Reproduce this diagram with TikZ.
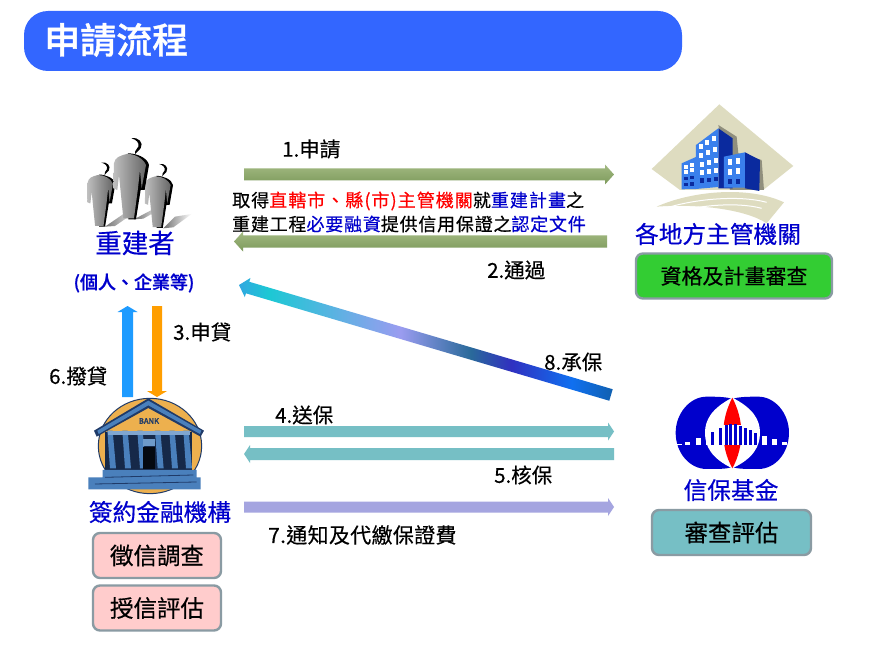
\documentclass[tikz,border=0pt]{standalone}
\usepackage{fontspec}
\setmainfont{Noto Sans CJK TC}[FakeBold=0.45]
\newfontfamily\boldish{Noto Sans CJK TC Medium}[FakeBold=1]
\usetikzlibrary{calc,shapes.geometric}
\definecolor{hdr}{HTML}{3366FF}
\definecolor{lblue}{HTML}{0000CC}
\definecolor{tealbar}{HTML}{76BFC5}
\definecolor{perib}{HTML}{A5A5E0}
\definecolor{boxedge}{HTML}{8A9BA3}
\definecolor{beige}{HTML}{DEDCC0}
\definecolor{bface}{HTML}{3A80EC}
\definecolor{bside}{HTML}{0A2A9E}
\definecolor{bankblue}{HTML}{4A80BC}
\definecolor{bankdark}{HTML}{1F3A68}
\definecolor{bankor}{HTML}{EDB04E}
\definecolor{gtop}{HTML}{A3B982}
\definecolor{gbot}{HTML}{7C9A5B}
\definecolor{arrblue}{HTML}{1E9BFF}
\definecolor{arrorange}{HTML}{FF9E00}
\definecolor{e1}{HTML}{30A8E0}
\definecolor{e2}{HTML}{1CC8D4}
\definecolor{e3}{HTML}{9A9CF0}
\definecolor{e4}{HTML}{2A6A9A}
\definecolor{e5}{HTML}{3030C0}
\definecolor{e6}{HTML}{1070F0}
\definecolor{e7}{HTML}{1060B0}
\pgfdeclarehorizontalshading{eightshade}{100bp}{color(0bp)=(e1);color(25bp)=(e1);color(29bp)=(e2);color(46.6bp)=(e3);color(56bp)=(e4);color(61.4bp)=(e5);color(69.5bp)=(e6);color(75bp)=(e7);color(100bp)=(e7)}
\tikzset{
  x=1pt,y=-1pt,
  lab/.style={inner sep=0pt,font=\fontsize{20.5}{21}\selectfont,text=black},
  title/.style={inner sep=0pt,font=\fontsize{26.5}{27}\selectfont,text=lblue},
  subt/.style={inner sep=0pt,font=\fontsize{23.7}{24}\selectfont,text=lblue},
  stepbox/.style={draw=boxedge,line width=2.4pt,rounded corners=7pt,inner sep=0pt,font=\fontsize{23.5}{24}\selectfont,text=black,anchor=center},
  greenbar/.style={top color=gtop,bottom color=gbot},
}
\newcommand{\blockarrow}[6][]{%
  \coordinate (hb) at ($(#3)!#6!(#2)$);
  \path[#1] ($(#2)!#4!90:(#3)$) -- ($(hb)!#4!90:(#3)$) -- ($(hb)!#5!90:(#3)$) -- (#3)
     -- ($(hb)!#5!-90:(#3)$) -- ($(hb)!#4!-90:(#3)$) -- ($(#2)!#4!-90:(#3)$) -- cycle;}
\newcommand{\personfig}{%
  \fill[black] (204,100) .. controls (228,100) and (262,112) .. (267,135) -- (254,210) -- (242,210) -- (228,298) -- (205,298) -- cycle;
  \shade[left color=white!75!black,right color=black!60!white] (200,102) .. controls (178,108) and (165,112) .. (162,130) -- (160,205) -- (172,210) -- (177,165) -- (190,295) -- (222,295) -- (234,205) -- (240,150) -- (245,205) -- (258,135) .. controls (250,115) and (222,100) .. (200,102) -- cycle;
  \fill[black] (214,55) .. controls (235,50) and (252,68) .. (242,85) .. controls (238,92) and (228,96) .. (226,102) .. controls (222,92) and (232,88) .. (235,80) .. controls (239,68) and (228,58) .. (214,55) -- cycle;
}
\begin{document}
\begin{tikzpicture}
\useasboundingbox (0,0) rectangle (879,650);
\fill[white] (0,0) rectangle (879,650);
% header
\node[fill=hdr,rounded corners=24pt,minimum width=658pt,minimum height=60pt,inner sep=0pt] (hdrbar) at (353,41) {};
\node[inner sep=0pt,anchor=west,text=white,font=\boldish\fontsize{36}{36}\selectfont] (hdrtext) at (44,40) {申請流程};
% people
\begin{scope}[shift={(60,120)},x=0.3333pt,y=-0.3333pt]
  \shade[left color=black!55!white,right color=white] (135,320) -- (205,272) -- (235,270) -- (165,318) -- cycle;
  \shade[left color=black!55!white,right color=white] (222,298) -- (290,262) -- (310,262) -- (250,296) -- cycle;
  \shade[left color=black!55!white,right color=white] (310,325) -- (345,290) -- (395,282) -- (340,322) -- cycle;
  \begin{scope}[shift={(-44.85,84.55)},scale=0.79]\personfig\end{scope}
  \begin{scope}[shift={(128.15,88.55)},scale=0.79]\personfig\end{scope}
  \personfig
\end{scope}
% building
\begin{scope}[shift={(630,95)},x=0.3333pt,y=-0.3333pt]
  \fill[beige] (268,28) -- (490,213) -- (400,285) -- (150,285) -- (65,222) -- cycle;
  \fill[beige] (80,335) .. controls (180,290) and (350,270) .. (462,322) -- (410,385) .. controls (350,345) and (210,325) .. (80,335) -- cycle;
  \draw[white,line width=1pt] (90,345) .. controls (190,310) and (330,300) .. (410,322);
  \draw[white,line width=1pt] (100,360) .. controls (200,330) and (320,320) .. (395,340);
  \fill[white] (90,372) .. controls (190,345) and (330,340) .. (405,385) -- (90,395) -- cycle;
  \fill[black!35!beige] (265,90) -- (320,125) -- (325,175) -- (395,195) -- (402,285) -- (300,285) -- cycle;
  \fill[bface] (155,205) -- (200,185) -- (200,282) -- (155,283) -- cycle;
  \fill[bside] (265,100) -- (308,130) -- (308,280) -- (265,280) -- cycle;
  \fill[bface] (198,150) -- (265,100) -- (265,276) -- (198,282) -- cycle;
  \fill[bside] (345,172) -- (390,195) -- (388,288) -- (345,280) -- cycle;
  \fill[bface] (282,185) -- (345,172) -- (345,278) -- (282,278) -- cycle;
  \foreach \xx/\yy in {163/210,181/204,163/226,181/220}{\fill[white] (\xx,\yy) rectangle +(10,11);}
  \foreach \xx/\yy in {163/245,181/243,163/264,181/262}{\fill[bside] (\xx,\yy) rectangle +(10,10);}
  \foreach \xx/\yy in {207/147,226/136,246/124,207/174,228/166,249/157,209/201,230/194,251/188,209/226,231/222,253/218}{\fill[white] (\xx,\yy) rectangle +(12,15);}
  \foreach \xx/\yy in {210/250,231/248,253/246}{\fill[bside] (\xx,\yy) rectangle +(12,13);}
  \foreach \xx/\yy in {294/193,318/190,294/222,318/220}{\fill[white] (\xx,\yy) rectangle +(13,17);}
  \foreach \xx/\yy in {294/252,318/251}{\fill[bside] (\xx,\yy) rectangle +(12,16);}
\end{scope}
% bank
\begin{scope}[shift={(80,390)},x=0.3333pt,y=-0.3333pt]
  \filldraw[fill=bankor,draw=bankdark,line width=1pt] (210,168) ellipse [x radius=155,y radius=143];
  \fill[bankor] (100,115) -- (205,48) -- (320,115) -- cycle;
  \fill[bankdark!70!black] (75,125) rectangle (335,240);
  \foreach \xx in {82,127,172,225,268,310}{\fill[bankblue] (\xx,122) -- (\xx+16,122) -- (\xx+26,235) -- (\xx+8,235) -- cycle;}
  \fill[bankblue!70!white] (85,122) rectangle (330,134);
  \fill[black!85!bankdark] (190,170) rectangle (226,238);
  \fill[bankblue!80!white] (190,148) rectangle (226,168);
  \fill[bankdark] (205,25) -- (42,122) -- (50,140) -- (205,54) -- (362,140) -- (372,122) -- cycle;
  \fill[bankblue] (205,32) -- (52,122) -- (56,132) -- (205,46) -- (360,132) -- (364,122) -- cycle;
  \node[inner sep=0pt,font=\boldish\fontsize{7.5}{8}\selectfont,text=bankdark] (banktext) at (207,93) {BANK};
  \fill[bankblue] (68,240) -- (350,240) -- (350,262) -- (362,262) -- (362,298) -- (25,298) -- (25,262) -- (68,262) -- cycle;
  \draw[bankdark,line width=0.8pt] (75,262) -- (340,255);
  \draw[bankdark,line width=0.8pt] (45,282) -- (350,276);
\end{scope}
% logo
\begin{scope}[shift={(640,385)},x=0.3333pt,y=-0.3333pt]
  \fill[lblue] (277,42) .. controls (262,36) and (235,35) .. (200,35) .. controls (150,35) and (107,85) .. (107,143) .. controls (107,205) and (150,252) .. (200,252) .. controls (235,252) and (262,252) .. (277,246) .. controls (292,252) and (320,252) .. (355,252) .. controls (405,252) and (447,205) .. (447,143) .. controls (447,85) and (405,35) .. (355,35) .. controls (320,35) and (292,36) .. (277,42) -- cycle;
  \fill[white] (277,38) .. controls (215,70) and (195,105) .. (195,143) .. controls (195,185) and (215,220) .. (277,250) .. controls (340,220) and (360,185) .. (360,143) .. controls (360,105) and (340,70) .. (277,38) -- cycle;
  \fill[red] (277,38) .. controls (258,75) and (250,110) .. (250,143) .. controls (250,180) and (258,215) .. (277,250) .. controls (296,215) and (304,180) .. (304,143) .. controls (304,110) and (296,75) .. (277,38) -- cycle;
  \fill[white] (250,120) rectangle (304,180);
  \foreach \xx/\yy in {212/140,238/130,254/120,268/118,282/118,296/122,312/130,327/136,342/144}{\fill[lblue] (\xx,\yy) rectangle (\xx+9,180);}
  \foreach \xx/\yy in {112/177,135/170,167/160,198/150,367/152,397/162,425/172}{\fill[white] (\xx,\yy) rectangle (\xx+15,180);}
\end{scope}
% titles and boxes
\node[title] (builder) at (135,243) {重建者};
\node[inner sep=0pt,font=\boldish\fontsize{18}{18}\selectfont,text=lblue] (buildersub) at (134,283) {(個人、企業等)};
\node[subt] (gov) at (718,234) {各地方主管機關};
\node[stepbox,fill=green!65!black!70!green!80!white,minimum width=196pt,minimum height=45pt,font=\fontsize{21}{22}\selectfont] (govbox) at (734,276) {資格及計畫審查};
\node[subt] (bank) at (160,512) {簽約金融機構};
\node[stepbox,fill=red!20!white,minimum width=128pt,minimum height=45pt] (credit1) at (157,555.5) {徵信調查};
\node[stepbox,fill=red!20!white,minimum width=128pt,minimum height=45pt] (credit2) at (157,608) {授信評估};
\node[subt] (fund) at (731,490) {信保基金};
\node[stepbox,fill=tealbar,minimum width=159pt,minimum height=45pt] (fundbox) at (731.5,532.5) {審查評估};
% arrow anchors
\coordinate (a1s) at (244,174.5); \coordinate (a1e) at (614,174.5);
\coordinate (a2s) at (607,241.5); \coordinate (a2e) at (234,241.5);
\coordinate (a8s) at (611,395); \coordinate (a8e) at (239,285);
\coordinate (a6s) at (127.5,397); \coordinate (a6e) at (127.5,306);
\coordinate (a3s) at (157,306); \coordinate (a3e) at (157,397);
\coordinate (a4s) at (244,431.5); \coordinate (a4e) at (614,431.5);
\coordinate (a5s) at (614,454); \coordinate (a5e) at (244,454);
\coordinate (a7s) at (244,507); \coordinate (a7e) at (614,507);
\blockarrow[greenbar]{a1s}{a1e}{6pt}{10pt}{9pt}
\blockarrow[greenbar]{a2s}{a2e}{6pt}{10pt}{9pt}
\blockarrow[shading=eightshade,shading angle=0]{a8s}{a8e}{6pt}{10pt}{9pt}
\blockarrow[fill=arrblue]{a6s}{a6e}{5.5pt}{10pt}{6pt}
\blockarrow[fill=arrorange]{a3s}{a3e}{5pt}{10pt}{6pt}
\blockarrow[fill=tealbar]{a4s}{a4e}{5.5pt}{9pt}{6pt}
\blockarrow[fill=tealbar]{a5s}{a5e}{6pt}{9pt}{6pt}
\blockarrow[fill=perib]{a7s}{a7e}{5.5pt}{9pt}{6pt}
% labels
\node[lab,anchor=west] (l1) at (282,149) {1.申請};
\node[lab,anchor=west] (l2) at (487,270) {2.通過};
\node[lab,anchor=west] (l3) at (173,332) {3.申貸};
\node[lab,anchor=west] (l6) at (49,376) {6.撥貸};
\node[lab,anchor=west] (l8) at (544,362) {8.承保};
\node[lab,anchor=west] (l4) at (275,415) {4.送保};
\node[lab,anchor=west] (l5) at (494,475) {5.核保};
\node[lab,anchor=west,font=\fontsize{21}{21}\selectfont\addfontfeature{LetterSpace=1.5}] (l7) at (268,535) {7.通知及代繳保證費};
\node[inner sep=0pt,anchor=west,font=\fontsize{18}{18}\selectfont\addfontfeature{LetterSpace=5.8}] (m1) at (232,201) {取得\textcolor{red}{直轄市、縣(市)主管機關}就\textcolor{lblue}{重建計畫}之};
\node[inner sep=0pt,anchor=west,font=\fontsize{18}{18}\selectfont\addfontfeature{LetterSpace=4.3}] (m2) at (232,224) {重建工程\textcolor{lblue}{必要融資}提供信用保證之\textcolor{lblue}{認定文件}};
\end{tikzpicture}
\end{document}
